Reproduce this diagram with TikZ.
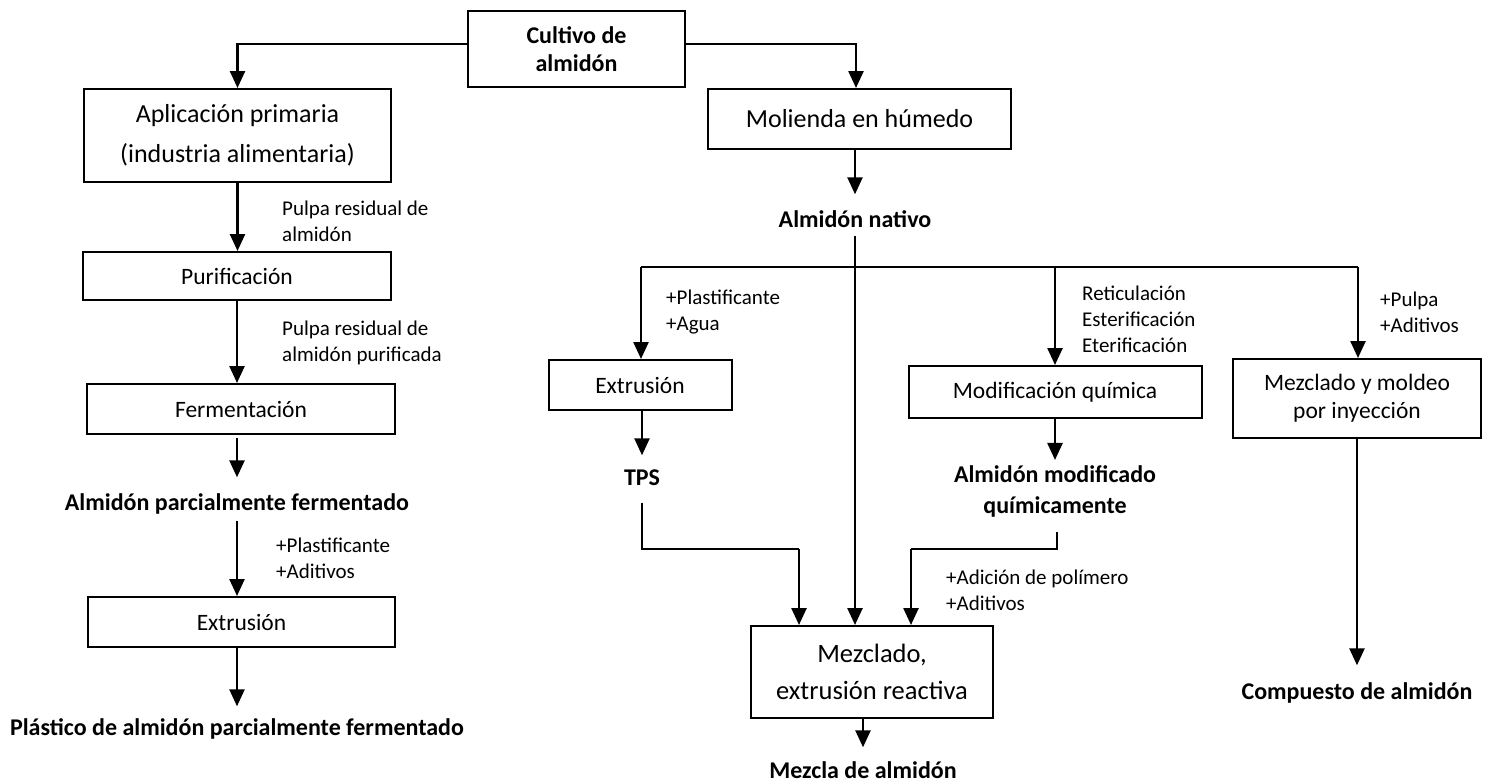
\documentclass[tikz,border=0pt]{standalone}
\usepackage{fontspec}
\setmainfont{Carlito}
\usetikzlibrary{arrows.meta}
\begin{document}
\begin{tikzpicture}[x=1pt,y=-1pt,
  box/.style={draw, line width=2pt, inner sep=0pt, align=center},
  sbox/.style={box, font=\fontsize{23.5}{28}\selectfont},
  bbox/.style={box, font=\fontsize{26}{40}\selectfont},
  res/.style={inner sep=0pt, align=center, font=\bfseries\fontsize{24}{31}\selectfont, text height=16pt, text depth=5pt},
  restwo/.style={inner sep=0pt, align=center, font=\bfseries\fontsize{24}{31}\selectfont},
  lab/.style={inner sep=0pt, anchor=west, align=left, font=\fontsize{21}{26}\selectfont},
  arr/.style={line width=2.5pt, -{Triangle[length=17pt,width=15pt]}},
  ln/.style={line width=2.5pt}]
\useasboundingbox (0,0) rectangle (1489,782);

% boxes and results
\node[box, font=\bfseries\fontsize{24}{28}\selectfont, minimum width=217pt, minimum height=76pt] (cult) at (576.5,49) {Cultivo de\\almidón};
\node[bbox, minimum width=307pt, minimum height=93pt] (apl) at (237.5,135.5) {Aplicación primaria\\(industria alimentaria)};
\node[bbox, minimum width=303pt, minimum height=60pt] (mol) at (859.5,119) {Molienda en húmedo};
\node[res] (nat) at (855,222) {Almidón nativo};
\node[sbox, minimum width=308pt, minimum height=48pt] (pur) at (237,276) {Purificación};
\node[sbox, minimum width=308pt, minimum height=50pt] (fer) at (241,409) {Fermentación};
\node[res] (apf) at (237,505) {Almidón parcialmente fermentado};
\node[sbox, minimum width=307pt, minimum height=50pt] (ext1) at (241.5,622) {Extrusión};
\node[res] (pla) at (237,730) {Plástico de almidón parcialmente fermentado};
\node[sbox, minimum width=183pt, minimum height=50pt] (ext2) at (640,385) {Extrusión};
\node[res] (tps) at (642,480) {TPS};
\node[sbox, minimum width=293pt, minimum height=52pt] (mod) at (1055,392) {Modificación química};
\node[restwo] (amq) at (1055,491) {Almidón modificado\\químicamente};
\node[sbox, minimum width=248pt, minimum height=79pt] (mmi) at (1357,398.5) {Mezclado y moldeo\\por inyección};
\node[res] (comp) at (1357,694) {Compuesto de almidón};
\node[box, font=\fontsize{26.5}{37}\selectfont, minimum width=242pt, minimum height=92pt] (mez) at (872,672) {Mezclado,\\extrusión reactiva};
\node[res] (mza) at (863,773) {Mezcla de almidón};

% side labels
\node[lab] (l1) at (282,221) {Pulpa residual de\\almidón};
\node[lab] (l2) at (282,342.5) {Pulpa residual de\\almidón purificada};
\node[lab] (l3) at (276,558) {+Plastificante\\+Aditivos};
\node[lab] (l4) at (666,312.5) {+Plastificante\\+Agua};
\node[lab] (l5) at (1082,319) {Reticulación\\Esterificación\\Eterificación};
\node[lab] (l6) at (1380,312) {+Pulpa\\+Aditivos};
\node[lab] (l7) at (946,590.5) {+Adición de polímero\\+Aditivos};

% connectors, left branch
\draw[arr] ([yshift=5pt]cult.west) -| (apl.north);
\draw[arr] ([yshift=5pt]cult.east) -| ([xshift=-3.5pt]mol.north);
\draw[arr] (apl.south) -- (apl.south |- pur.north);
\draw[arr] (pur.south) -- (pur.south |- fer.north);
\draw[arr, shorten <=3pt, shorten >=17pt] (fer.south -| apf.north) -- (apf.north);
\draw[arr, shorten <=5pt] (apf.south) -- (apf.south |- ext1.north);
\draw[arr, shorten >=13pt] (ext1.south -| pla.north) -- (pla.north);

% right branch
\draw[arr, shorten >=17pt] (mol.south -| nat.north) -- (nat.north);
\coordinate (hl) at (641,267);
\coordinate (hr) at (1358,267);
\draw[ln] (hl) -- (hr);
\draw[arr] (hl) -- (hl |- ext2.north);
\draw[arr] (mod.north |- hl) -- (mod.north);
\draw[arr] (hr) -- (hr |- mmi.north);
\draw[arr, shorten <=3pt] (nat.south) -- (nat.south |- mez.north);
\draw[arr, shorten >=14pt] (ext2.south -| tps.north) -- (tps.north);
\draw[arr, shorten >=5pt] (mod.south) -- (amq.north);
\coordinate (j1) at (799,549);
\coordinate (j2) at (911,549);
\draw[ln, shorten <=12pt] (tps.south) |- (j1);
\draw[arr] (j1) -- (j1 |- mez.north);
\draw[ln, shorten <=15pt] ([xshift=2pt]amq.south) |- (j2);
\draw[arr] (j2) -- (j2 |- mez.north);
\draw[arr, shorten >=15pt] (mez.south -| mza.north) -- (mza.north);
\draw[arr, shorten >=18pt] (mmi.south) -- (comp.north);
\end{tikzpicture}
\end{document}
